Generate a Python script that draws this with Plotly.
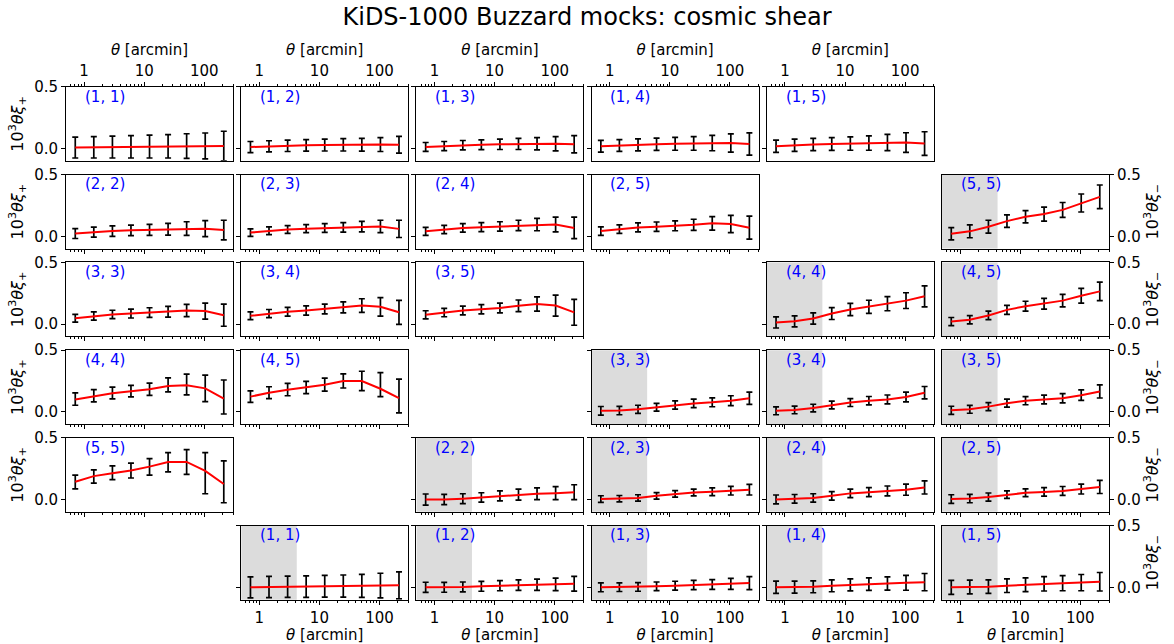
import math
import plotly.graph_objects as go

# ---------------- data ----------------
THETA = [0.713, 1.45, 2.96, 6.02, 12.26, 24.96, 50.8, 103.5, 210.7]  # arcmin
THETA_RANGE = [0.5, 300]
SCALE_CUT_XIM = 4.2  # arcmin, shaded region for xi_-
Y_RANGE = [-0.1, 0.5]
Y_TICKS = [0.0, 0.5]
Y_TICKTEXT = ["0.0", "0.5"]
X_TICKS = [1, 10, 100]
X_TICKTEXT = ["1", "10", "100"]
X_MINOR = [0.6, 0.7, 0.8, 0.9, 2, 3, 4, 5, 6, 7, 8, 9, 20, 30, 40, 50, 60, 70, 80, 90, 200, 300]

# 10^3 theta xi_+ (model line)
xip_model = {
    (1, 1): [0.008, 0.010, 0.012, 0.014, 0.016, 0.018, 0.020, 0.021, 0.020],
    (1, 2): [0.012, 0.018, 0.022, 0.026, 0.028, 0.030, 0.031, 0.032, 0.030],
    (1, 3): [0.013, 0.020, 0.027, 0.031, 0.034, 0.037, 0.039, 0.039, 0.034],
    (1, 4): [0.018, 0.025, 0.030, 0.035, 0.038, 0.041, 0.044, 0.045, 0.037],
    (1, 5): [0.018, 0.027, 0.033, 0.037, 0.040, 0.044, 0.049, 0.048, 0.040],
    (2, 2): [0.022, 0.034, 0.042, 0.048, 0.052, 0.057, 0.063, 0.062, 0.050],
    (2, 3): [0.030, 0.045, 0.055, 0.062, 0.067, 0.072, 0.078, 0.080, 0.060],
    (2, 4): [0.040, 0.055, 0.068, 0.074, 0.080, 0.088, 0.095, 0.095, 0.068],
    (2, 5): [0.042, 0.058, 0.072, 0.078, 0.085, 0.093, 0.105, 0.100, 0.070],
    (3, 3): [0.047, 0.065, 0.078, 0.085, 0.093, 0.100, 0.110, 0.105, 0.072],
    (3, 4): [0.067, 0.085, 0.100, 0.110, 0.122, 0.135, 0.150, 0.140, 0.095],
    (3, 5): [0.075, 0.093, 0.110, 0.120, 0.130, 0.148, 0.163, 0.150, 0.095],
    (4, 4): [0.100, 0.128, 0.150, 0.166, 0.182, 0.210, 0.215, 0.190, 0.107],
    (4, 5): [0.123, 0.155, 0.178, 0.197, 0.220, 0.250, 0.250, 0.187, 0.110],
    (5, 5): [0.144, 0.190, 0.214, 0.235, 0.267, 0.305, 0.305, 0.233, 0.126],
}
# measured points (error-bar centres) where they visibly differ from the model
xip_data = {
    (4, 4): [0.103, 0.130, 0.152, 0.168, 0.183, 0.218, 0.221, 0.190, 0.120],
    (4, 5): [0.123, 0.155, 0.180, 0.197, 0.220, 0.250, 0.250, 0.220, 0.128],
    (5, 5): [0.142, 0.187, 0.217, 0.235, 0.265, 0.302, 0.305, 0.214, 0.144],
}
xip_err = {
    (1, 1): [0.085, 0.087, 0.089, 0.091, 0.093, 0.095, 0.100, 0.105, 0.120],
    (1, 2): [0.045, 0.045, 0.046, 0.047, 0.048, 0.050, 0.052, 0.056, 0.068],
    (1, 3): [0.036, 0.037, 0.038, 0.040, 0.042, 0.045, 0.050, 0.058, 0.070],
    (1, 4): [0.048, 0.048, 0.049, 0.050, 0.052, 0.055, 0.062, 0.074, 0.090],
    (1, 5): [0.050, 0.050, 0.050, 0.052, 0.054, 0.058, 0.066, 0.080, 0.096],
    (2, 2): [0.040, 0.041, 0.042, 0.043, 0.045, 0.048, 0.055, 0.065, 0.080],
    (2, 3): [0.030, 0.031, 0.032, 0.033, 0.035, 0.038, 0.043, 0.050, 0.070],
    (2, 4): [0.033, 0.033, 0.035, 0.036, 0.038, 0.042, 0.050, 0.060, 0.087],
    (2, 5): [0.034, 0.035, 0.036, 0.038, 0.040, 0.045, 0.055, 0.070, 0.093],
    (3, 3): [0.032, 0.033, 0.034, 0.036, 0.039, 0.044, 0.050, 0.065, 0.090],
    (3, 4): [0.032, 0.033, 0.035, 0.037, 0.040, 0.045, 0.055, 0.075, 0.097],
    (3, 5): [0.033, 0.034, 0.035, 0.037, 0.040, 0.047, 0.058, 0.085, 0.105],
    (4, 4): [0.050, 0.050, 0.048, 0.047, 0.050, 0.057, 0.084, 0.107, 0.138],
    (4, 5): [0.047, 0.048, 0.050, 0.050, 0.053, 0.057, 0.079, 0.097, 0.137],
    (5, 5): [0.056, 0.053, 0.056, 0.060, 0.067, 0.078, 0.100, 0.167, 0.170],
}

# 10^3 theta xi_- (model line)
xim_model = {
    (1, 1): [0.000, 0.002, 0.004, 0.006, 0.008, 0.010, 0.012, 0.014, 0.016],
    (1, 2): [0.000, 0.000, 0.003, 0.008, 0.013, 0.018, 0.021, 0.024, 0.029],
    (1, 3): [0.000, 0.001, 0.003, 0.008, 0.013, 0.019, 0.023, 0.028, 0.034],
    (1, 4): [0.000, 0.001, 0.004, 0.012, 0.020, 0.026, 0.031, 0.036, 0.042],
    (1, 5): [0.000, 0.002, 0.005, 0.013, 0.021, 0.028, 0.033, 0.038, 0.045],
    (2, 2): [0.000, 0.000, 0.007, 0.017, 0.030, 0.040, 0.047, 0.052, 0.060],
    (2, 3): [0.004, 0.007, 0.013, 0.030, 0.046, 0.057, 0.063, 0.072, 0.080],
    (2, 4): [0.001, 0.006, 0.013, 0.030, 0.050, 0.060, 0.070, 0.080, 0.098],
    (2, 5): [0.004, 0.008, 0.020, 0.040, 0.055, 0.062, 0.070, 0.085, 0.102],
    (3, 3): [0.008, 0.010, 0.020, 0.037, 0.055, 0.068, 0.077, 0.090, 0.110],
    (3, 4): [0.008, 0.015, 0.030, 0.055, 0.075, 0.090, 0.100, 0.120, 0.155],
    (3, 5): [0.012, 0.020, 0.042, 0.070, 0.090, 0.100, 0.110, 0.135, 0.165],
    (4, 4): [0.013, 0.022, 0.045, 0.085, 0.118, 0.140, 0.165, 0.190, 0.225],
    (4, 5): [0.020, 0.035, 0.070, 0.115, 0.145, 0.165, 0.190, 0.230, 0.265],
    (5, 5): [0.020, 0.040, 0.078, 0.123, 0.158, 0.180, 0.214, 0.270, 0.320],
}
xim_err = {
    (1, 1): [0.085, 0.086, 0.086, 0.087, 0.088, 0.090, 0.093, 0.100, 0.110],
    (1, 2): [0.041, 0.040, 0.040, 0.040, 0.041, 0.043, 0.046, 0.051, 0.060],
    (1, 3): [0.036, 0.035, 0.035, 0.035, 0.036, 0.038, 0.040, 0.045, 0.053],
    (1, 4): [0.050, 0.049, 0.048, 0.048, 0.049, 0.051, 0.054, 0.060, 0.070],
    (1, 5): [0.057, 0.056, 0.055, 0.055, 0.056, 0.058, 0.061, 0.066, 0.075],
    (2, 2): [0.045, 0.042, 0.040, 0.038, 0.040, 0.044, 0.047, 0.053, 0.060],
    (2, 3): [0.027, 0.026, 0.026, 0.026, 0.027, 0.028, 0.031, 0.035, 0.043],
    (2, 4): [0.036, 0.035, 0.034, 0.034, 0.035, 0.037, 0.040, 0.045, 0.053],
    (2, 5): [0.035, 0.034, 0.033, 0.031, 0.032, 0.034, 0.036, 0.040, 0.053],
    (3, 3): [0.035, 0.034, 0.033, 0.032, 0.033, 0.034, 0.036, 0.040, 0.050],
    (3, 4): [0.032, 0.031, 0.031, 0.031, 0.032, 0.034, 0.036, 0.040, 0.050],
    (3, 5): [0.033, 0.032, 0.032, 0.032, 0.033, 0.035, 0.038, 0.043, 0.053],
    (4, 4): [0.045, 0.045, 0.046, 0.048, 0.050, 0.053, 0.057, 0.064, 0.085],
    (4, 5): [0.033, 0.034, 0.035, 0.036, 0.040, 0.044, 0.050, 0.060, 0.075],
    (5, 5): [0.050, 0.052, 0.052, 0.050, 0.050, 0.057, 0.060, 0.073, 0.096],
}

TITLE = "KiDS-1000 Buzzard mocks: cosmic shear"
XLABEL = "<i>θ</i> [arcmin]"
YLABEL_P = "10<sup>3</sup><i>θξ</i><sub>+</sub>"
YLABEL_M = "10<sup>3</sup><i>θξ</i><sub>−</sub>"

# ---------------- layout geometry (pixels) ----------------
W, H = 1174, 644
LEFT0, COLSTEP, PW = 66, 175.2, 167
TOP0, ROWSTEP, PH = 79, 89, 75
FONT = "DejaVu Sans"
FS = 15

fig = go.Figure()
layout_axes = {}
annotations = []
shapes = []

panels = []
for (i, j) in xip_model:
    panels.append(("p", i, j, i - 1, j - i))
for (i, j) in xim_model:
    panels.append(("m", i, j, 6 - i, j))

for k, (kind, i, j, row, col) in enumerate(panels, start=1):
    x0 = (LEFT0 + COLSTEP * col) / W
    x1 = (LEFT0 + COLSTEP * col + PW) / W
    ytop = 1 - (TOP0 + ROWSTEP * row) / H
    ybot = 1 - (TOP0 + ROWSTEP * row + PH) / H
    suffix = "" if k == 1 else str(k)
    xa = "x" + suffix
    ya = "y" + suffix
    xname = "xaxis" + suffix
    yname = "yaxis" + suffix

    top_row = (kind == "p" and row == 0)
    bottom_row = (row == 5)
    xaxis = dict(
        domain=[x0, x1], anchor=ya, type="log",
        range=[math.log10(THETA_RANGE[0]), math.log10(THETA_RANGE[1])],
        tickvals=X_TICKS, ticktext=X_TICKTEXT, ticks="outside", ticklen=4, tickwidth=1,
        tickcolor="black", showgrid=False, zeroline=False,
        showline=True, linecolor="black", linewidth=1, mirror=True,
        minor=dict(tickvals=X_MINOR, ticks="outside", ticklen=2, tickwidth=0.8, tickcolor="black", showgrid=False),
        showticklabels=top_row or bottom_row,
        side="top" if top_row else "bottom",
        tickfont=dict(family=FONT, size=FS, color="black"),
    )
    if top_row or bottom_row:
        xaxis["title"] = dict(text=XLABEL, font=dict(family=FONT, size=FS, color="black"), standoff=2)
    layout_axes[xname] = xaxis

    right_side = (kind == "m" and col == 5)
    left_labels = (kind == "p" and col == 0)
    yaxis = dict(
        domain=[ybot, ytop], anchor=xa, range=Y_RANGE,
        tickvals=Y_TICKS, ticktext=Y_TICKTEXT, ticks="outside", ticklen=4, tickwidth=1,
        tickcolor="black", showgrid=False, zeroline=False,
        showline=True, linecolor="black", linewidth=1, mirror=True,
        side="right" if right_side else "left",
        showticklabels=right_side or left_labels,
        tickfont=dict(family=FONT, size=FS, color="black"),
    )
    if right_side or left_labels:
        yaxis["title"] = dict(text=YLABEL_M if right_side else YLABEL_P,
                              font=dict(family=FONT, size=16, color="black"), standoff=6)
    layout_axes[yname] = yaxis

    if kind == "p":
        model = xip_model[(i, j)]
        data = xip_data.get((i, j), model)
        err = xip_err[(i, j)]
    else:
        model = xim_model[(i, j)]
        data = model
        err = xim_err[(i, j)]
        shapes.append(dict(type="rect", xref=xa, yref=f"{ya} domain",
                           x0=THETA_RANGE[0], x1=SCALE_CUT_XIM, y0=0, y1=1,
                           fillcolor="#dcdcdc", line=dict(width=0), layer="below"))

    fig.add_trace(go.Scatter(
        x=THETA, y=data, mode="markers", xaxis=xa, yaxis=ya,
        marker=dict(size=1, color="black", opacity=0),
        error_y=dict(type="data", array=err, visible=True, color="black", thickness=1.7, width=3),
        showlegend=False, hoverinfo="skip"))
    fig.add_trace(go.Scatter(
        x=THETA, y=model, mode="lines", xaxis=xa, yaxis=ya,
        line=dict(color="red", width=2), showlegend=False, hoverinfo="skip"))

    annotations.append(dict(text=f"({i}, {j})", xref=f"{xa} domain", yref=f"{ya} domain",
                            x=0.1, y=0.87, xanchor="left", yanchor="middle", showarrow=False,
                            font=dict(family=FONT, size=FS, color="blue")))

fig.update_layout(
    width=W, height=H, margin=dict(l=0, r=0, t=0, b=0),
    paper_bgcolor="white", plot_bgcolor="white",
    title=dict(text=TITLE, x=0.5, xanchor="center", y=1 - 17 / H, yanchor="middle",
               font=dict(family=FONT, size=24, color="black")),
    annotations=annotations, shapes=shapes,
    font=dict(family=FONT, color="black"),
    hovermode=False,
    **layout_axes,
)
fig.write_html("out.html", config={"displayModeBar": False},
               post_script="document.body.style.margin='0px';document.body.style.padding='0px';")
